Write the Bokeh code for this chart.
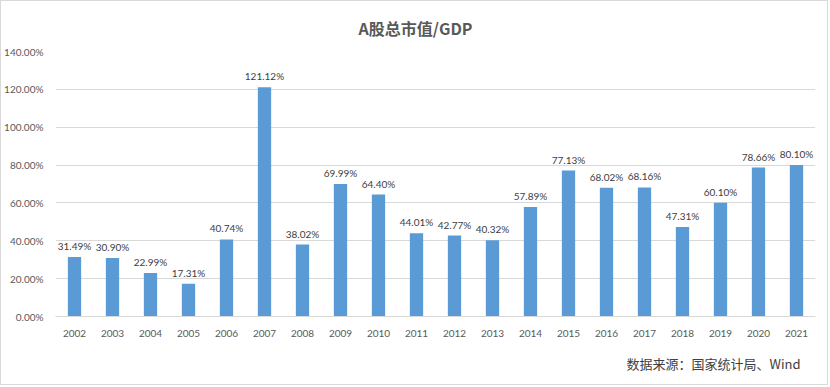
from bokeh.plotting import figure
from bokeh.models import ColumnDataSource, Range1d, PrintfTickFormatter, FixedTicker, Title
from bokeh.embed import file_html
from bokeh.resources import INLINE
from bokeh.core.properties import value

years = ["2002", "2003", "2004", "2005", "2006", "2007", "2008", "2009", "2010", "2011",
         "2012", "2013", "2014", "2015", "2016", "2017", "2018", "2019", "2020", "2021"]
ratios = [31.49, 30.90, 22.99, 17.31, 40.74, 121.12, 38.02, 69.99, 64.40, 44.01,
          42.77, 40.32, 57.89, 77.13, 68.02, 68.16, 47.31, 60.10, 78.66, 80.10]
labels = [f"{v:.2f}%" for v in ratios]
y_ticks = [0, 20, 40, 60, 80, 100, 120, 140]

src = ColumnDataSource(dict(year=years, ratio=ratios, label=labels))

p = figure(width=828, height=385, x_range=years, y_range=Range1d(0, 140),
           output_backend="svg", toolbar_location=None,
           min_border_left=53, min_border_right=14, min_border_top=0, min_border_bottom=0)
p.styles = {"border": "1px solid #d9d9d9"}
p.outline_line_color = None
p.background_fill_color = "white"

main_title = Title(text="A股总市值/GDP", align="left", offset=303, standoff=24,
                   text_font="Noto Sans CJK SC", text_font_size="16px",
                   text_font_style="bold", text_color="#595959")
p.add_layout(main_title, "above")

p.vbar(x="year", top="ratio", width=0.35, source=src, fill_color="#5B9BD5", line_color=None)
p.text(x="year", y="ratio", text="label", source=src, y_offset=-5,
       text_align="center", text_baseline="bottom",
       text_font=value("Lato"), text_font_size="10px", text_color="#404040")

p.xgrid.grid_line_color = None
p.ygrid.grid_line_color = "#d9d9d9"
p.ygrid.ticker = FixedTicker(ticks=y_ticks)

p.yaxis.ticker = FixedTicker(ticks=y_ticks)
p.yaxis.formatter = PrintfTickFormatter(format="%.2f%%")
p.yaxis.axis_line_color = None
p.yaxis.major_tick_line_color = None
p.yaxis.minor_tick_line_color = None
p.yaxis.major_label_text_font = "Lato"
p.yaxis.major_label_text_font_size = "10px"
p.yaxis.major_label_text_color = "#595959"
p.yaxis.major_label_standoff = 6

p.xaxis.axis_line_color = "#d9d9d9"
p.xaxis.major_tick_line_color = None
p.xaxis.minor_tick_line_color = None
p.xaxis.major_label_text_font = "Lato"
p.xaxis.major_label_text_font_size = "10px"
p.xaxis.major_label_text_color = "#595959"
p.xaxis.major_label_standoff = 7

source_note = Title(text="数据来源：国家统计局、Wind", align="right", offset=15, standoff=26,
                    vertical_align="middle",
                    text_font="Noto Sans CJK SC", text_font_size="13px",
                    text_font_style="normal", text_color="#404040")
p.add_layout(source_note, "below")

open("out.html", "w").write(file_html(p, INLINE))
